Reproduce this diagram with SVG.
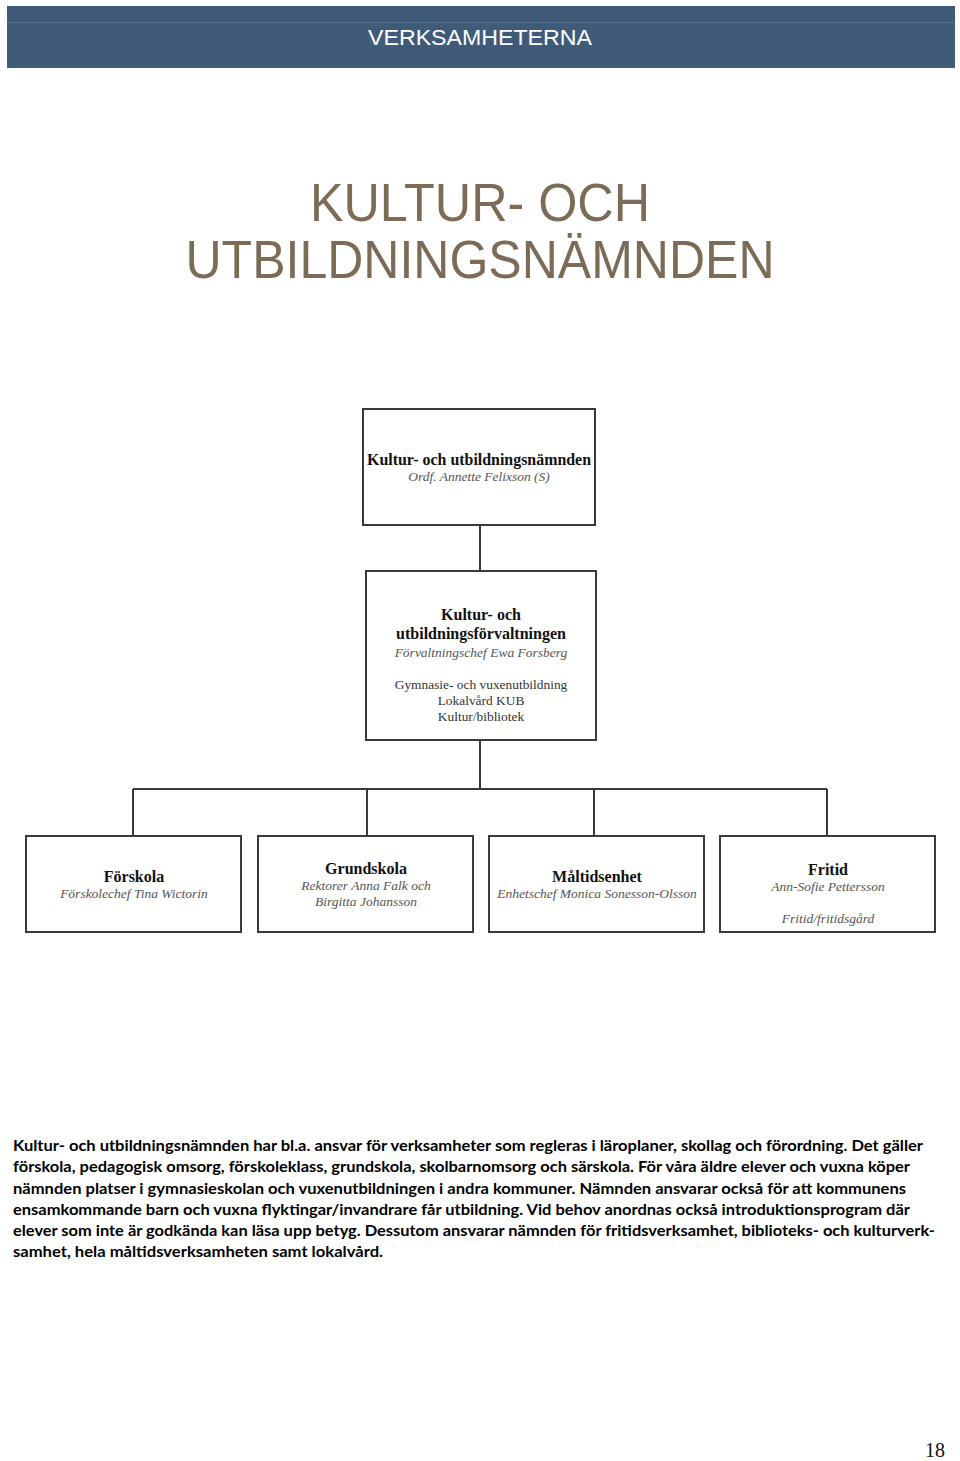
<svg xmlns="http://www.w3.org/2000/svg" width="960" height="1461" viewBox="0 0 960 1461">
<style>
.box{fill:#fff;stroke:#3a3a3a;stroke-width:2}
.conn{fill:none;stroke:#3a3a3a;stroke-width:2}
.b{font-family:"Liberation Serif",serif;font-weight:bold;font-size:16px;fill:#111;text-anchor:middle}
.i{font-family:"Liberation Serif",serif;font-style:italic;font-size:13.5px;fill:#555;text-anchor:middle}
.r{font-family:"Liberation Serif",serif;font-size:13.4px;fill:#333;text-anchor:middle}
.p{font-family:Lato,"Liberation Sans",sans-serif;font-weight:bold;font-size:15px;fill:#000}
.t{font-family:"Liberation Sans",Arial,sans-serif;font-size:54px;fill:#7b6b57;text-anchor:middle}
</style>
<rect width="960" height="1461" fill="#fff"/>
<g id="header">
<rect x="7" y="6" width="948" height="62" fill="#3f5b79"/>
<line x1="7" y1="22.5" x2="955" y2="22.5" stroke="#56708c" stroke-width="1"/>
<text x="480" y="45" font-family="'Liberation Sans',Arial,sans-serif" font-size="22" fill="#fff" text-anchor="middle" textLength="224" lengthAdjust="spacingAndGlyphs">VERKSAMHETERNA</text>
</g>
<g id="title">
<text class="t" x="480" y="221" textLength="340" lengthAdjust="spacingAndGlyphs">KULTUR- OCH</text>
<text class="t" x="480" y="278" textLength="589" lengthAdjust="spacingAndGlyphs">UTBILDNINGSNÄMNDEN</text>
</g>
<g id="connectors">
<path class="conn" d="M480 525V571M480 740V789M133 789H827M133 789V836M367 789V836M594 789V836M827 789V836"/>
</g>
<g id="n-namnd">
<rect class="box" x="363" y="409" width="232" height="116"/>
<text class="b" x="479" y="465" textLength="224" lengthAdjust="spacingAndGlyphs">Kultur- och utbildningsnämnden</text>
<text class="i" x="479" y="481">Ordf. Annette Felixson (S)</text>
</g>
<g id="n-forvaltning">
<rect class="box" x="366" y="571" width="230" height="169"/>
<text class="b" x="481" y="620">Kultur- och</text>
<text class="b" x="481" y="639">utbildningsförvaltningen</text>
<text class="i" x="481" y="657">Förvaltningschef  Ewa Forsberg</text>
<text class="r" x="481" y="689">Gymnasie- och vuxenutbildning</text>
<text class="r" x="481" y="705">Lokalvård KUB</text>
<text class="r" x="481" y="721">Kultur/bibliotek</text>
</g>
<g id="n-forskola">
<rect class="box" x="26" y="836" width="215" height="96"/>
<text class="b" x="134" y="882">Förskola</text>
<text class="i" x="134" y="898">Förskolechef Tina Wictorin</text>
</g>
<g id="n-grundskola">
<rect class="box" x="258" y="836" width="215" height="96"/>
<text class="b" x="366" y="874">Grundskola</text>
<text class="i" x="366" y="890">Rektorer Anna Falk och</text>
<text class="i" x="366" y="906">Birgitta Johansson</text>
</g>
<g id="n-maltid">
<rect class="box" x="489" y="836" width="215" height="96"/>
<text class="b" x="597" y="882">Måltidsenhet</text>
<text class="i" x="597" y="898">Enhetschef Monica Sonesson-Olsson</text>
</g>
<g id="n-fritid">
<rect class="box" x="720" y="836" width="215" height="96"/>
<text class="b" x="828" y="875">Fritid</text>
<text class="i" x="828" y="891">Ann-Sofie Pettersson</text>
<text class="i" x="828" y="923">Fritid/fritidsgård</text>
</g>
<g id="body">
<text class="p" x="13" y="1151" textLength="910" lengthAdjust="spacingAndGlyphs">Kultur- och utbildningsnämnden har bl.a. ansvar för verksamheter som regleras i läroplaner, skollag och förordning. Det gäller</text>
<text class="p" x="13" y="1172" textLength="897" lengthAdjust="spacingAndGlyphs">förskola, pedagogisk omsorg, förskoleklass, grundskola, skolbarnomsorg och särskola. För våra äldre elever och vuxna köper</text>
<text class="p" x="13" y="1194" textLength="893" lengthAdjust="spacingAndGlyphs">nämnden platser i gymnasieskolan och vuxenutbildningen i andra kommuner. Nämnden ansvarar också för att kommunens</text>
<text class="p" x="13" y="1215" textLength="897" lengthAdjust="spacingAndGlyphs">ensamkommande barn och vuxna flyktingar/invandrare får utbildning. Vid behov anordnas också introduktionsprogram där</text>
<text class="p" x="13" y="1236" textLength="922" lengthAdjust="spacingAndGlyphs">elever som inte är godkända kan läsa upp betyg. Dessutom ansvarar nämnden för fritidsverksamhet, biblioteks- och kulturverk-</text>
<text class="p" x="13" y="1257" textLength="370" lengthAdjust="spacingAndGlyphs">samhet, hela måltidsverksamheten samt lokalvård.</text>
</g>
<text x="935" y="1457" font-family="'Liberation Serif',serif" font-size="20" fill="#111" text-anchor="middle">18</text>
</svg>
